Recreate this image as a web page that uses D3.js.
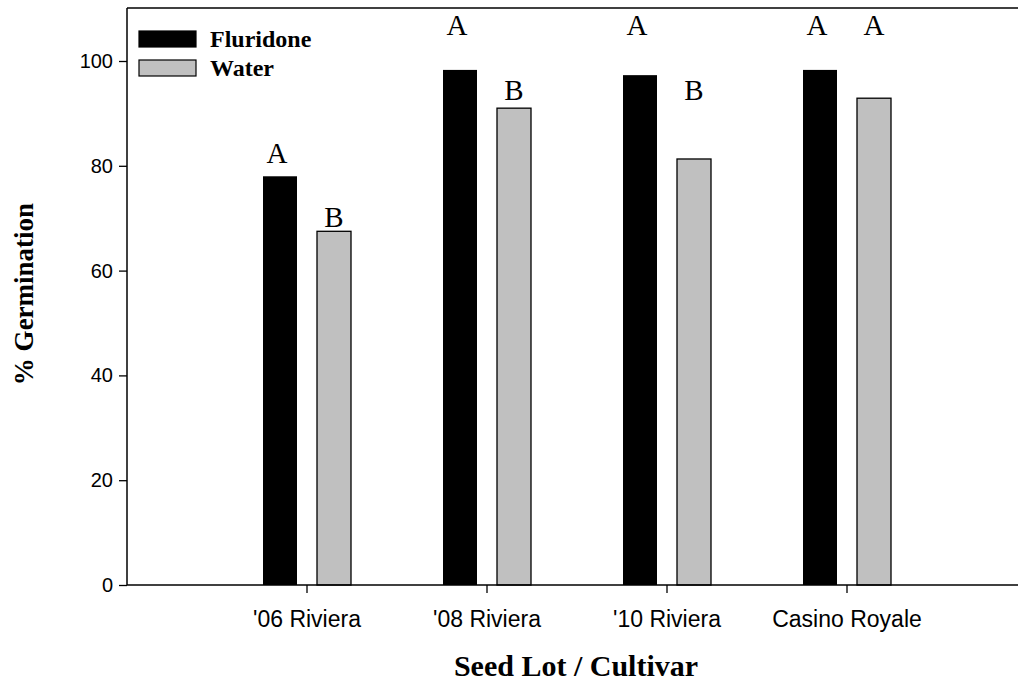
<!DOCTYPE html>
<html><head><meta charset="utf-8">
<script src="https://cdn.jsdelivr.net/npm/d3@7"></script>
<style>body{margin:0;background:#fff}svg{display:block}</style>
</head><body>
<script>
const categories = ["'06 Riviera", "'08 Riviera", "'10 Riviera", "Casino Royale"];
const fluridone = [78.0, 98.3, 97.3, 98.3];
const water = [67.5, 91.0, 81.3, 92.9];
const fluridoneLetters = ["A", "A", "A", "A"];
const waterLetters = ["B", "B", "B", "A"];
const fluridoneLetterY = [80.5, 105, 105, 105];
const waterLetterY = [68.3, 92.6, 92.6, 105];
const yTicks = [0, 20, 40, 60, 80, 100];
const seriesNames = ["Fluridone", "Water"];
const seriesColors = ["#000000", "#c0c0c0"];

const W = 1018, H = 683;
const m = {left: 127, top: 8, bottom: 585};
const svg = d3.select("body").append("svg").attr("width", W).attr("height", H);

const x = d3.scaleBand().domain(categories).range([127, 1027]).paddingOuter(0.5).paddingInner(0);
const y = d3.scaleLinear().domain([0, 100]).range([585, 61]);
const off = d3.scaleOrdinal().domain(seriesNames).range([-27, 27]);
const bw = 34;
const cx = c => x(c) + x.bandwidth() / 2;

const series = [fluridone, water];
series.forEach((vals, si) => {
  svg.append("g").selectAll("rect").data(categories).join("rect")
    .attr("x", c => cx(c) + off(seriesNames[si]) - bw / 2)
    .attr("width", bw)
    .attr("y", (c, i) => y(vals[i]))
    .attr("height", (c, i) => y(0) - y(vals[i]))
    .attr("fill", seriesColors[si])
    .attr("stroke", "#000").attr("stroke-width", si === 0 ? 0 : 1.3);
});

const letterSets = [[fluridoneLetters, fluridoneLetterY], [waterLetters, waterLetterY]];
letterSets.forEach(([letters, ly], si) => {
  svg.append("g").selectAll("text").data(categories).join("text")
    .attr("x", c => cx(c) + off(seriesNames[si]) - (si === 0 ? 3 : 0))
    .attr("y", (c, i) => y(ly[i]))
    .attr("text-anchor", "middle")
    .attr("font-family", "Liberation Serif, Times New Roman, serif")
    .attr("font-size", 29)
    .text((c, i) => letters[i]);
});

const yAxis = d3.axisLeft(y).tickValues(yTicks).tickSize(8).tickPadding(6);
const gy = svg.append("g").attr("transform", `translate(${m.left},0)`).call(yAxis);
gy.select(".domain").remove();
gy.selectAll("line").attr("stroke", "#000").attr("stroke-width", 1.3);
gy.selectAll("text").attr("font-family", "Liberation Sans, Arial, sans-serif").attr("font-size", 20).attr("fill", "#000");

const xAxis = d3.axisBottom(x).tickSize(8).tickPadding(18);
const gx = svg.append("g").attr("transform", `translate(0,${m.bottom})`).call(xAxis);
gx.select(".domain").remove();
gx.selectAll("line").attr("stroke", "#000").attr("stroke-width", 1.3);
gx.selectAll("text").attr("font-family", "Liberation Sans, Arial, sans-serif").attr("font-size", 23).attr("fill", "#000");

svg.append("line").attr("x1", m.left).attr("x2", W).attr("y1", m.bottom).attr("y2", m.bottom).attr("stroke", "#000").attr("stroke-width", 1.5);
svg.append("line").attr("x1", m.left).attr("x2", W).attr("y1", m.top).attr("y2", m.top).attr("stroke", "#000").attr("stroke-width", 1.5);
svg.append("line").attr("x1", m.left).attr("x2", m.left).attr("y1", m.top).attr("y2", m.bottom).attr("stroke", "#000").attr("stroke-width", 1.5);

const lg = svg.append("g");
seriesNames.forEach((n, i) => {
  lg.append("rect").attr("x", 139).attr("y", 31 + i * 29).attr("width", 57).attr("height", 16)
    .attr("fill", seriesColors[i]).attr("stroke", "#000").attr("stroke-width", 1.2);
  lg.append("text").attr("x", 210).attr("y", 47 + i * 29)
    .attr("font-family", "Liberation Serif, Times New Roman, serif").attr("font-weight", "bold").attr("font-size", 24)
    .text(n);
});

svg.append("text").attr("x", 576).attr("y", 676).attr("text-anchor", "middle")
  .attr("font-family", "Liberation Serif, Times New Roman, serif").attr("font-weight", "bold").attr("font-size", 30)
  .text("Seed Lot / Cultivar");
svg.append("text").attr("transform", "translate(33,294) rotate(-90)").attr("text-anchor", "middle")
  .attr("font-family", "Liberation Serif, Times New Roman, serif").attr("font-weight", "bold").attr("font-size", 27)
  .text("% Germination");
</script>
</body></html>
